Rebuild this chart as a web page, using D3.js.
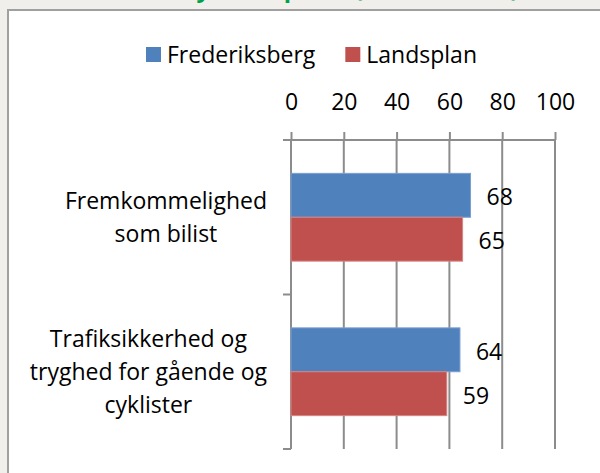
<!DOCTYPE html>
<html>
<head>
<meta charset="utf-8">
<script src="https://cdn.jsdelivr.net/npm/d3@7"></script>
<style>
  html, body { margin: 0; padding: 0; background: #f0efeb; overflow: hidden; }
  text { font-family: "Open Sans", "Noto Sans", sans-serif; fill: #000; }
</style>
</head>
<body>
<div id="chart"></div>
<script>

const FRAME_HEIGHT = 473;
const FRAME_WIDTH = 600;
const PLOT = {left: 291, right: 555, top: 140, bottom: 449};

// data
const CATEGORY_LINES = [["Fremkommelighed", "som bilist"],
                        ["Trafiksikkerhed og", "tryghed for gående og", "cyklister"]];
const SERIES = ["Frederiksberg", "Landsplan"];
const FREDERIKSBERG = [68, 64];
const LANDSPLAN = [65, 59];
const X_TICKS = [0, 20, 40, 60, 80, 100];
const COLORS = ["#4f81bd", "#c0504d"];
const STROKES = ["#7b9fd0", "#d58482"];
const TITLE = "Tilfredshed: bytrafik pr. år (indeks 0-100)";

const FONT_SIZE = 23;

const FRAME1 = d3.select("#chart")
                  .append("svg")
                    .attr("height", FRAME_HEIGHT)
                    .attr("width", FRAME_WIDTH);

// gray page + white chart box (box runs off to the right / bottom)
FRAME1.append("rect")
        .attr("width", FRAME_WIDTH)
        .attr("height", FRAME_HEIGHT)
        .attr("fill", "#f0efeb");
FRAME1.append("rect")
        .attr("x", 8)
        .attr("y", 10)
        .attr("width", 640)
        .attr("height", 520)
        .attr("fill", "#fff")
        .attr("stroke", "#a0a0a0")
        .attr("stroke-width", 2);

// title is cut off at the top, only the descenders show
FRAME1.append("text")
        .attr("x", 33)
        .attr("y", -3)
        .style("font-size", "24px")
        .style("font-weight", "bold")
        .style("fill", "#00a04a")
        .text(TITLE);

const X_SCALE = d3.scaleLinear()
                    .domain([0, 100])
                    .range([PLOT.left, PLOT.right]);

const Y_SCALE = d3.scaleBand()
                    .domain(d3.range(CATEGORY_LINES.length))
                    .range([PLOT.top, PLOT.bottom]);

const S_SCALE = d3.scaleBand()
                    .domain(SERIES)
                    .range([0, Y_SCALE.bandwidth()])
                    .paddingOuter(0.76);

// gridlines
FRAME1.selectAll(".grid")
        .data(X_TICKS)
        .enter()
        .append("line")
          .attr("x1", (d) => X_SCALE(d))
          .attr("x2", (d) => X_SCALE(d))
          .attr("y1", PLOT.top)
          .attr("y2", PLOT.bottom)
          .attr("stroke", "#8c8c8c")
          .attr("stroke-width", 2);

// top value axis
const X_AXIS = FRAME1.append("g")
        .attr("transform", "translate(0," + PLOT.top + ")")
        .call(d3.axisTop(X_SCALE)
                .tickValues(X_TICKS)
                .tickSizeInner(8)
                .tickSizeOuter(0)
                .tickPadding(22));
X_AXIS.select(".domain").remove();
X_AXIS.selectAll("line").attr("stroke", "#8c8c8c").attr("stroke-width", 2);
X_AXIS.selectAll("text")
        .style("font-size", FONT_SIZE + "px")
        .style("font-family", "'Open Sans', sans-serif")
        .attr("fill", "#000");

// axis lines
const boundaries = Y_SCALE.domain().map((d) => Y_SCALE(d)).concat([PLOT.bottom]);
FRAME1.append("line")
        .attr("x1", PLOT.left - 8).attr("x2", PLOT.right)
        .attr("y1", PLOT.top).attr("y2", PLOT.top)
        .attr("stroke", "#8c8c8c").attr("stroke-width", 2);
FRAME1.append("line")
        .attr("x1", PLOT.left).attr("x2", PLOT.left)
        .attr("y1", PLOT.top).attr("y2", PLOT.bottom)
        .attr("stroke", "#8c8c8c").attr("stroke-width", 2);
FRAME1.selectAll(".ytick")
        .data(boundaries)
        .enter()
        .append("line")
          .attr("x1", PLOT.left - 8)
          .attr("x2", PLOT.left)
          .attr("y1", (d) => d)
          .attr("y2", (d) => d)
          .attr("stroke", "#8c8c8c")
          .attr("stroke-width", 2);

// bars
const BAR_DATA = [];
[FREDERIKSBERG, LANDSPLAN].forEach((vals, s) => {
  vals.forEach((v, c) => { BAR_DATA.push({cat: c, series: SERIES[s], si: s, value: v}); });
});

FRAME1.selectAll(".bar")
        .data(BAR_DATA)
        .enter()
        .append("rect")
          .attr("x", X_SCALE(0))
          .attr("y", (d) => Y_SCALE(d.cat) + S_SCALE(d.series))
          .attr("width", (d) => X_SCALE(d.value) - X_SCALE(0))
          .attr("height", S_SCALE.bandwidth())
          .attr("fill", (d) => COLORS[d.si])
          .attr("stroke", (d) => STROKES[d.si])
          .attr("stroke-width", 1);

// value labels
FRAME1.selectAll(".val")
        .data(BAR_DATA)
        .enter()
        .append("text")
          .attr("x", (d) => X_SCALE(d.value) + 16)
          .attr("y", (d) => Y_SCALE(d.cat) + S_SCALE(d.series) + S_SCALE.bandwidth() / 2 + 2)
          .attr("dy", "0.35em")
          .style("font-size", FONT_SIZE + "px")
          .text((d) => d.value);

// category labels, lines centred, block pushed up against the axis
const LINE_H = 33;
CATEGORY_LINES.forEach((lines, c) => {
  const g = FRAME1.append("g");
  const texts = g.selectAll("text")
        .data(lines)
        .enter()
        .append("text")
          .style("font-size", FONT_SIZE + "px")
          .attr("text-anchor", "middle")
          .text((d) => d);
  let maxW = 0;
  texts.each(function() { maxW = Math.max(maxW, this.getComputedTextLength()); });
  const cx = 267 - maxW / 2;
  const cy = Y_SCALE(c) + Y_SCALE.bandwidth() / 2;
  texts.attr("x", cx)
       .attr("y", (d, i) => cy + (i - (lines.length - 1) / 2) * LINE_H + 8);
});

// legend, centred over the plot
const legend = FRAME1.append("g");
let lx = 0;
SERIES.forEach((name, i) => {
  legend.append("rect")
          .attr("x", lx)
          .attr("y", 47)
          .attr("width", 15)
          .attr("height", 15)
          .attr("fill", COLORS[i]);
  const t = legend.append("text")
          .attr("x", lx + 21)
          .attr("y", 63)
          .style("font-size", FONT_SIZE + "px")
          .text(name);
  lx += 21 + t.node().getComputedTextLength() + 30;
});
const legendW = lx - 30;
legend.attr("transform", "translate(" + (311.5 - legendW / 2) + ",0)");

</script>
</body>
</html>
